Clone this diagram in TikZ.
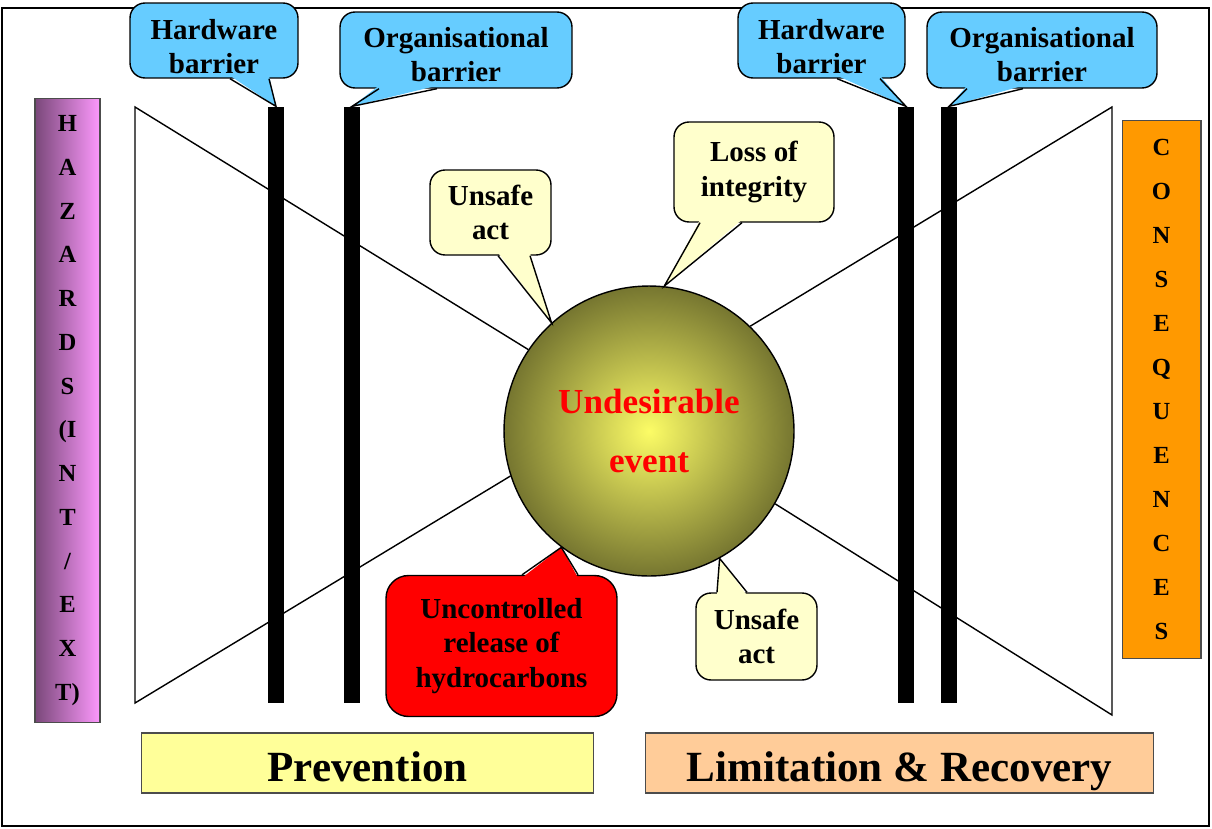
\documentclass[tikz,border=0pt]{standalone}
\usepackage{fontspec}
\setmainfont{Liberation Serif}
\usepackage{xcolor}
\usepackage{tikz}
\usetikzlibrary{shapes}

\definecolor{barrierblue}{RGB}{102,204,255}
\definecolor{notepale}{RGB}{255,255,204}
\definecolor{prevyellow}{RGB}{255,255,153}
\definecolor{limpeach}{RGB}{255,204,153}
\definecolor{consorange}{RGB}{255,153,0}
\definecolor{hazdark}{RGB}{122,72,122}
\definecolor{hazlight}{RGB}{252,152,252}
\definecolor{evlight}{RGB}{252,252,102}
\definecolor{evdark}{RGB}{118,118,48}

\begin{document}
\begin{tikzpicture}[x=0.02cm, y=-0.02cm, line width=0.8pt]

\tikzstyle{bar} = [fill=black, inner sep=0pt, minimum width=0.32cm, minimum height=11.92cm]
\tikzstyle{bubble} = [draw, rectangle, rounded corners=0.3cm, inner sep=0pt, align=center, font=\bfseries\fontsize{16.5}{19.5}\selectfont]
\tikzstyle{banner} = [draw=black!70, line width=0.6pt, rectangle, inner sep=0pt, align=center]
\tikzstyle{title} = [banner, minimum height=1.2cm, text height=21.6pt, text depth=0pt, font=\bfseries\fontsize{24.5}{30}\selectfont]

\useasboundingbox (0,0) rectangle (1212,828);
\draw [line width=1.2pt] (2,8) rectangle (1209,826);

\node [circle, draw, minimum size=5.8cm, inner color=evlight, outer color=evdark, text=red, align=center, font=\bfseries\fontsize{20}{33.6}\selectfont] (event) at (649,431) {Undesirable\\event};

\coordinate (prevTop) at (135,107);
\coordinate (prevBottom) at (135,703);
\coordinate (limTop) at (1112,107);
\coordinate (limBottom) at (1112,715);
\draw (event.146) -- (prevTop) -- (prevBottom) -- (event.198);
\draw (event.46) -- (limTop) -- (limBottom) -- (event.-30);

\node [bar] (hwbarL) at (276,405) {};
\node [bar] (orgbarL) at (352,405) {};
\node [bar] (hwbarR) at (906,405) {};
\node [bar] (orgbarR) at (949,405) {};

\node [bubble, fill=barrierblue, minimum width=3.36cm, minimum height=1.5cm] (hwL) at (214,40.5) {\rule{0pt}{18pt}Hardware\\barrier};
\fill [barrierblue] ([shift={(16,-3)}]hwL.south) -- (hwbarL.north) -- ([shift={(55,-3)}]hwL.south) -- cycle;
\draw ([shift={(16,0)}]hwL.south) -- (hwbarL.north) -- ([shift={(55,0)}]hwL.south);

\node [bubble, fill=barrierblue, minimum width=4.64cm, minimum height=1.52cm] (orgL) at (456,50) {\rule{0pt}{16.5pt}Organisational\\barrier};
\fill [barrierblue] ([shift={(-77,-3)}]orgL.south) -- (orgbarL.north) -- ([shift={(-19,-3)}]orgL.south) -- cycle;
\draw ([shift={(-77,0)}]orgL.south) -- (orgbarL.north) -- ([shift={(-19,0)}]orgL.south);

\node [bubble, fill=barrierblue, minimum width=3.34cm, minimum height=1.5cm] (hwR) at (821.5,40.5) {\rule{0pt}{18pt}Hardware\\barrier};
\fill [barrierblue] ([shift={(15.5,-3)}]hwR.south) -- (hwbarR.north) -- ([shift={(58.5,-3)}]hwR.south) -- cycle;
\draw ([shift={(15.5,0)}]hwR.south) -- (hwbarR.north) -- ([shift={(58.5,0)}]hwR.south);

\node [bubble, fill=barrierblue, minimum width=4.6cm, minimum height=1.52cm] (orgR) at (1042,50) {\rule{0pt}{16.5pt}Organisational\\barrier};
\fill [barrierblue] ([shift={(-75,-3)}]orgR.south) -- (orgbarR.north) -- ([shift={(-19,-3)}]orgR.south) -- cycle;
\draw ([shift={(-75,0)}]orgR.south) -- (orgbarR.north) -- ([shift={(-19,0)}]orgR.south);

\node [bubble, fill=notepale, minimum width=2.42cm, minimum height=1.7cm] (unsafeUp) at (490.5,212.5) {Unsafe\\act};
\fill [notepale] ([shift={(7.5,-3)}]unsafeUp.south) -- (event.132) -- ([shift={(39.5,-3)}]unsafeUp.south) -- cycle;
\draw ([shift={(7.5,0)}]unsafeUp.south) -- (event.132) -- ([shift={(39.5,0)}]unsafeUp.south);

\node [bubble, fill=notepale, minimum width=3.2cm, minimum height=2cm] (integrity) at (754,172) {Loss of\\integrity};
\fill [notepale] ([shift={(-54,-3)}]integrity.south) -- (event.84) -- ([shift={(-12,-3)}]integrity.south) -- cycle;
\draw ([shift={(-54,0)}]integrity.south) -- (event.84) -- ([shift={(-12,0)}]integrity.south);

\node [bubble, fill=notepale, minimum width=2.42cm, minimum height=1.74cm] (unsafeDown) at (756.5,636.5) {Unsafe\\act};
\fill [notepale] ([shift={(-39.5,3)}]unsafeDown.north) -- (event.-61) -- ([shift={(-9.5,3)}]unsafeDown.north) -- cycle;
\draw ([shift={(-39.5,0)}]unsafeDown.north) -- (event.-61) -- ([shift={(-9.5,0)}]unsafeDown.north);

\node [bubble, rounded corners=0.45cm, fill=red, minimum width=4.62cm, minimum height=2.82cm] (release) at (501.5,646) {Uncontrolled\\release of\\hydrocarbons};
\fill [red] ([shift={(20.5,3)}]release.north) -- (event.-127) -- ([shift={(76.5,3)}]release.north) -- cycle;
\draw ([shift={(20.5,0)}]release.north) -- (event.-127) -- ([shift={(76.5,0)}]release.north);

\node [banner, left color=hazdark, right color=hazlight, minimum width=1.3cm, minimum height=12.5cm, font=\bfseries\fontsize{14}{24.9}\selectfont] (hazards) at (67.5,410.5) {H\\A\\Z\\A\\R\\D\\S\\(I\\N\\T\\/\\E\\X\\T)};
\node [banner, fill=consorange, minimum width=1.58cm, minimum height=10.78cm, font=\bfseries\fontsize{14}{25}\selectfont] (consequences) at (1161.5,389.5) {C\\O\\N\\S\\E\\Q\\U\\E\\N\\C\\E\\S};

\node [title, fill=prevyellow, minimum width=9.06cm] (prevention) at (367.5,763) {Prevention};
\node [title, fill=limpeach, minimum width=10.18cm] (limitation) at (899.5,763) {Limitation \& Recovery};
\end{tikzpicture}
\end{document}
